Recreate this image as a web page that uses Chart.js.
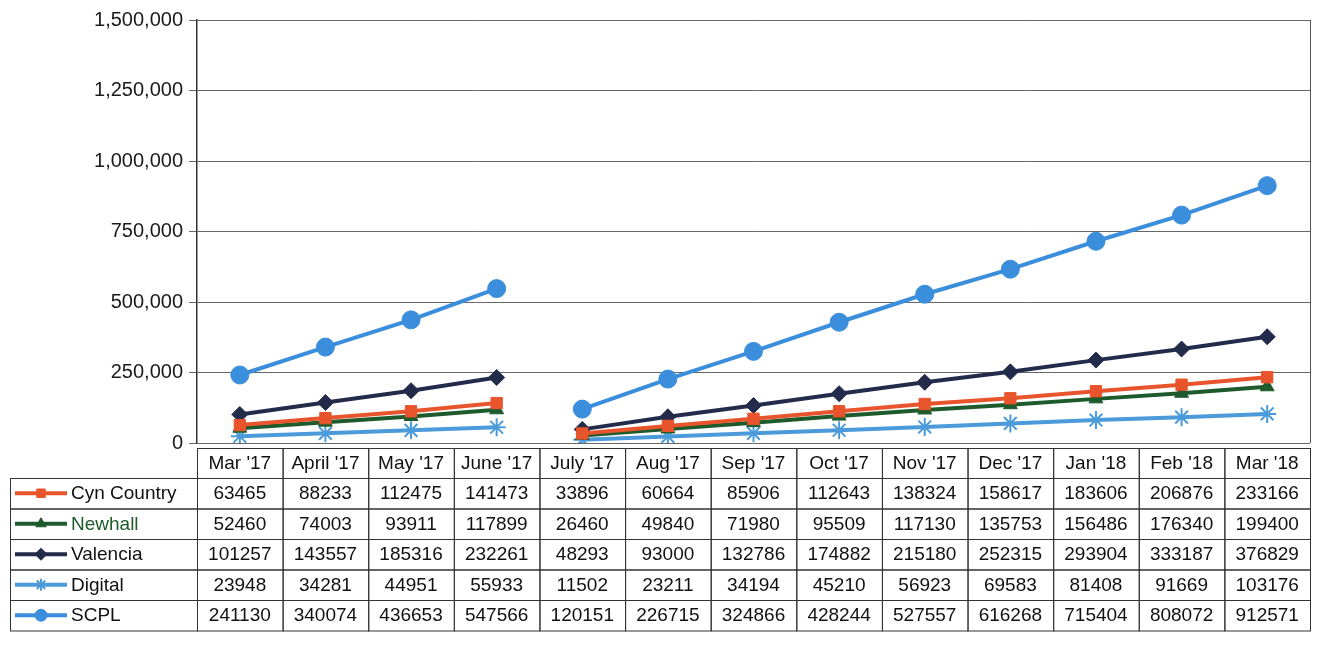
<!DOCTYPE html>
<html>
<head>
<meta charset="utf-8">
<script src="https://cdn.jsdelivr.net/npm/chart.js@4"></script>
<style>
  html, body { margin: 0; padding: 0; background: #fff; }
  #wrap { width: 1324px; height: 645px; position: relative; }
</style>
</head>
<body>
<div id="wrap"><canvas id="circChart"></canvas></div>
<script>
const months = ["Mar '17", "April '17", "May '17", "June '17", "July '17", "Aug '17", "Sep '17",
    "Oct '17", "Nov '17", "Dec '17", "Jan '18", "Feb '18", "Mar '18"];

const cynCountry = [63465, 88233, 112475, 141473, 33896, 60664, 85906, 112643, 138324, 158617, 183606, 206876, 233166];
const newhall = [52460, 74003, 93911, 117899, 26460, 49840, 71980, 95509, 117130, 135753, 156486, 176340, 199400];
const valencia = [101257, 143557, 185316, 232261, 48293, 93000, 132786, 174882, 215180, 252315, 293904, 333187, 376829];
const digital = [23948, 34281, 44951, 55933, 11502, 23211, 34194, 45210, 56923, 69583, 81408, 91669, 103176];
const scpl = [241130, 340074, 436653, 547566, 120151, 226715, 324866, 428244, 527557, 616268, 715404, 808072, 912571];

const yTicks = [0, 250000, 500000, 750000, 1000000, 1250000, 1500000];

// fiscal year break: no line between June '17 and July '17
const breakAfter = 3;

function series(label, data, color, style, radius, labelColor) {
    return {
        label: label,
        data: data,
        borderColor: color,
        backgroundColor: color,
        borderWidth: 4,
        pointStyle: style,
        pointRadius: radius,
        pointBorderWidth: style === 'star' ? 2 : 1,
        pointBorderColor: color,
        labelColor: labelColor || '#111',
        segment: {
            borderColor: ctx => ctx.p0DataIndex === breakAfter ? 'rgba(0,0,0,0)' : undefined
        }
    };
}

const datasets = [
    series('Cyn Country', cynCountry, '#E8542C', 'rect', 8),
    series('Newhall', newhall, '#1E5B2C', 'triangle', 8, '#1E5B2C'),
    series('Valencia', valencia, '#232B4B', 'rectRot', 8),
    series('Digital', digital, '#4B9BDA', 'star', 9),
    series('SCPL', scpl, '#3A8EDC', 'circle', 9)
];

const tableFont = '19px "Liberation Sans", Arial, sans-serif';

// draws the data table under the plot, columns taken from the x scale
const dataTable = {
    id: 'dataTable',
    afterDraw(chart) {
        const ctx = chart.ctx;
        const area = chart.chartArea;
        const x = chart.scales.x;
        const n = months.length;
        const colW = (area.right - area.left) / n;
        const top = area.bottom + 5;
        const headH = 30;
        const rowH = 30.5;
        const legLeft = 10;

        ctx.save();
        // plot frame on the right
        ctx.strokeStyle = '#555';
        ctx.lineWidth = 1;
        ctx.beginPath();
        ctx.moveTo(area.right + 0.5, area.top);
        ctx.lineTo(area.right + 0.5, area.bottom);
        ctx.stroke();

        ctx.font = tableFont;
        ctx.textBaseline = 'middle';

        // header row
        for (let i = 0; i < n; i++) {
            const l = area.left + i * colW;
            ctx.strokeStyle = '#333';
            ctx.lineWidth = 1;
            ctx.strokeRect(l + 0.5, top + 0.5, colW, headH);
            ctx.fillStyle = '#111';
            ctx.textAlign = 'center';
            ctx.fillText(months[i], x.getPixelForValue(i), top + headH / 2 + 1);
        }

        // data rows
        chart.data.datasets.forEach((ds, r) => {
            const y0 = top + headH + r * rowH;
            ctx.strokeStyle = '#333';
            ctx.lineWidth = 1;
            ctx.strokeRect(legLeft + 0.5, y0 + 0.5, area.left - legLeft, rowH);
            ctx.textAlign = 'center';
            ctx.fillStyle = '#111';
            for (let i = 0; i < n; i++) {
                const l = area.left + i * colW;
                ctx.strokeRect(l + 0.5, y0 + 0.5, colW, rowH);
                ctx.fillText(String(ds.data[i]), x.getPixelForValue(i), y0 + rowH / 2 + 1);
            }
            // legend key
            const cy = y0 + rowH / 2;
            ctx.strokeStyle = ds.borderColor;
            ctx.fillStyle = ds.borderColor;
            ctx.lineWidth = 4;
            ctx.beginPath();
            ctx.moveTo(legLeft + 5, cy);
            ctx.lineTo(legLeft + 57, cy);
            ctx.stroke();
            ctx.lineWidth = ds.pointStyle === 'star' ? 2 : 1;
            Chart.helpers.drawPoint(ctx, {
                pointStyle: ds.pointStyle,
                radius: 6,
                borderWidth: ds.pointStyle === 'star' ? 2 : 1
            }, legLeft + 31, cy);
            ctx.fillStyle = ds.labelColor;
            ctx.textAlign = 'left';
            ctx.fillText(ds.label, legLeft + 61, cy + 1);
        });
        ctx.restore();
    }
};

new Chart(document.getElementById('circChart'), {
    type: 'line',
    data: { labels: months, datasets: datasets },
    plugins: [dataTable],
    options: {
        responsive: true,
        maintainAspectRatio: false,
        animation: false,
        layout: { padding: { top: 20, right: 14, bottom: 202, left: 0 } },
        plugins: {
            legend: { display: false },
            tooltip: { enabled: false }
        },
        scales: {
            x: {
                display: false,
                offset: true
            },
            y: {
                min: 0,
                max: 1500000,
                afterBuildTicks: scale => { scale.ticks = yTicks.map(v => ({ value: v })); },
                afterFit: scale => { scale.width = 197; },
                border: { color: '#333', width: 1.5 },
                grid: { color: '#666', lineWidth: 1, tickLength: 8 },
                ticks: {
                    padding: 6,
                    color: '#1a1a1a',
                    font: { family: '"Liberation Sans", Arial, sans-serif', size: 20 },
                    callback: v => v.toLocaleString('en-US')
                }
            }
        }
    }
});
</script>
</body>
</html>
